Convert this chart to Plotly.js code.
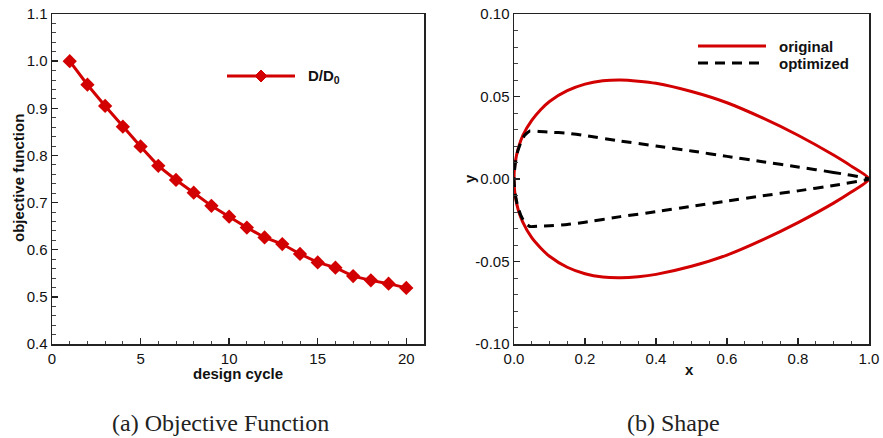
<!DOCTYPE html>
<html>
<head>
<meta charset="utf-8">
<script src="https://cdn.plot.ly/plotly-3.0.1.min.js"></script>
<style>html,body{margin:0;padding:0;background:#fff;}#chart{width:883px;height:438px;}</style>
</head>
<body>
<div id="chart"></div>
<script>
// ---- Data: (a) objective function history ----
const designCycle = [1,2,3,4,5,6,7,8,9,10,11,12,13,14,15,16,17,18,19,20];
const objective = [1.000,0.950,0.905,0.861,0.819,0.778,0.748,0.721,0.693,0.670,0.647,0.626,0.612,0.591,0.573,0.562,0.544,0.535,0.528,0.519];

// ---- Data: (b) shapes ----
const origX      = [0,0.0025,0.0125,0.025,0.05,0.075,0.1,0.15,0.2,0.25,0.3,0.35,0.4,0.5,0.6,0.7,0.8,0.9,0.95,1.0];
const origUpperY = [0,0.0088,0.0190,0.0265,0.0355,0.0420,0.0470,0.0535,0.0575,0.0595,0.0600,0.0593,0.0580,0.0530,0.0462,0.0370,0.0265,0.0145,0.0078,0.0];
const origLowerY = [0,-0.0088,-0.0192,-0.0263,-0.0356,-0.0418,-0.0468,-0.0535,-0.0574,-0.0594,-0.0598,-0.0592,-0.0578,-0.0529,-0.0461,-0.0369,-0.0264,-0.0146,-0.0079,0.0];

const optX      = [0,0.003,0.01,0.02,0.03,0.045,0.07,0.1,0.15,0.2,0.3,0.4,0.5,0.6,0.7,0.8,0.9,1.0];
const optUpperY = [0,0.0085,0.0165,0.0225,0.0265,0.0292,0.0288,0.0284,0.0278,0.0263,0.0230,0.0200,0.0170,0.0137,0.0105,0.0073,0.0040,0.0];
const optLowerY = [0,-0.0085,-0.0163,-0.0224,-0.0263,-0.0288,-0.0286,-0.0283,-0.0276,-0.0262,-0.0228,-0.0198,-0.0166,-0.0134,-0.0102,-0.0072,-0.0039,0.0];

// ---- Tick labels ----
const shapeYTickVals = [-0.10,-0.05,0.00,0.05,0.10];
const shapeYTickText = ['-0.10','-0.05','0.00','0.05','0.10'];

const legendLabels = {obj: 'D/D<sub>0</sub>', orig: 'original', opt: 'optimized'};
const axisTitles = {x1: 'design cycle', y1: 'objective function', x2: 'x', y2: 'y'};
const captions = ['(a) Objective Function', '(b) Shape'];

// closed outlines: upper from TE to LE, then lower from LE to TE
const loopX = xs => xs.slice().reverse().concat(xs.slice(1));
const loopY = (up, lo) => up.slice().reverse().concat(lo.slice(1));

const W = 883, H = 438;
const px = v => v / W;
const py = v => 1 - v / H;

const RED = '#d20000';
const FONT = 'Liberation Sans, Arial, sans-serif';
const SERIF = 'Liberation Serif, Times New Roman, serif';

const traces = [
  {x: designCycle, y: objective, xaxis: 'x', yaxis: 'y', mode: 'lines+markers', name: 'D/D0',
   line: {color: RED, width: 3}, marker: {symbol: 'diamond', size: 11, color: RED}, showlegend: false},
  {x: loopX(origX), y: loopY(origUpperY, origLowerY), xaxis: 'x2', yaxis: 'y2', mode: 'lines', name: 'original',
   line: {color: RED, width: 3, shape: 'spline', smoothing: 0.6}, showlegend: false},
  {x: loopX(optX), y: loopY(optUpperY, optLowerY), xaxis: 'x2', yaxis: 'y2', mode: 'lines', name: 'optimized',
   line: {color: '#000', width: 3, dash: '10px,7px', shape: 'spline', smoothing: 0.4}, showlegend: false}
];

const axBase = {
  showgrid: false, zeroline: false, showline: true, mirror: true, linecolor: '#222', linewidth: 1.5,
  ticks: 'inside', ticklen: 6, tickwidth: 1.5, tickcolor: '#222',
  tickfont: {family: FONT, size: 15, color: '#111'}, automargin: false, fixedrange: true
};
const minorTicks = d => ({ticks: 'inside', dtick: d, ticklen: 3.5, tickwidth: 1, tickcolor: '#444'});

const titleAnn = (text, x, y, rot) => ({
  xref: 'paper', yref: 'paper', x: px(x), y: py(y), xanchor: 'center', yanchor: 'middle', showarrow: false,
  borderpad: 0, textangle: rot || 0, text: '<b>' + text + '</b>', font: {family: FONT, size: 15, color: '#111'}
});

const layout = {
  width: W, height: H, margin: {l: 0, r: 0, t: 0, b: 0},
  paper_bgcolor: '#fff', plot_bgcolor: '#fff', showlegend: false,
  xaxis: Object.assign({}, axBase, {
    domain: [px(52), px(424)], range: [0, 21], tick0: 0, dtick: 5, anchor: 'y',
    minor: minorTicks(1)
  }),
  yaxis: Object.assign({}, axBase, {
    domain: [py(344), py(14)], range: [0.4, 1.1], tick0: 0.4, dtick: 0.1, tickformat: '.1f', anchor: 'x',
    minor: minorTicks(0.02)
  }),
  xaxis2: Object.assign({}, axBase, {
    domain: [px(514), px(869)], range: [0, 1], tick0: 0, dtick: 0.2, tickformat: '.1f', anchor: 'y2',
    minor: minorTicks(0.05)
  }),
  yaxis2: Object.assign({}, axBase, {
    domain: [py(344), py(14)], range: [-0.1, 0.1], tickmode: 'array', tickvals: shapeYTickVals, ticktext: shapeYTickText, anchor: 'x2',
    minor: minorTicks(0.01)
  }),
  shapes: [
    // legend samples (a)
    {type: 'line', xref: 'paper', yref: 'paper', x0: px(227), x1: px(295), y0: py(76), y1: py(76), line: {color: RED, width: 3}},
    {type: 'path', xref: 'paper', yref: 'paper', xsizemode: 'pixel', ysizemode: 'pixel', xanchor: px(261), yanchor: py(76),
     path: 'M0,-6 L6,0 L0,6 L-6,0 Z', fillcolor: RED, line: {color: RED, width: 1}},
    // legend samples (b)
    {type: 'line', xref: 'paper', yref: 'paper', x0: px(698), x1: px(766), y0: py(46), y1: py(46), line: {color: RED, width: 3}},
    {type: 'line', xref: 'paper', yref: 'paper', x0: px(698), x1: px(766), y0: py(63), y1: py(63), line: {color: '#000', width: 3, dash: '10px,7px'}}
  ],
  annotations: [
    {xref: 'paper', yref: 'paper', x: px(306), y: py(77), xanchor: 'left', yanchor: 'middle', showarrow: false,
     text: '<b>' + legendLabels.obj + '</b>', font: {family: FONT, size: 15, color: '#111'}},
    {xref: 'paper', yref: 'paper', x: px(777), y: py(46), xanchor: 'left', yanchor: 'middle', showarrow: false,
     text: '<b>' + legendLabels.orig + '</b>', font: {family: FONT, size: 15, color: '#111'}},
    {xref: 'paper', yref: 'paper', x: px(777), y: py(63), xanchor: 'left', yanchor: 'middle', showarrow: false,
     text: '<b>' + legendLabels.opt + '</b>', font: {family: FONT, size: 15, color: '#111'}},
    titleAnn(axisTitles.x1, 238, 373),
    titleAnn(axisTitles.y1, 19, 178, -90),
    titleAnn(axisTitles.x2, 689, 369),
    titleAnn(axisTitles.y2, 470, 178, -90),
    {xref: 'paper', yref: 'paper', x: px(221), y: py(423), xanchor: 'center', yanchor: 'middle', showarrow: false,
     text: captions[0], font: {family: SERIF, size: 24, color: '#222'}},
    {xref: 'paper', yref: 'paper', x: px(673), y: py(423), xanchor: 'center', yanchor: 'middle', showarrow: false,
     text: captions[1], font: {family: SERIF, size: 24, color: '#222'}}
  ]
};

Plotly.newPlot('chart', traces, layout, {staticPlot: true, displayModeBar: false});
</script>
</body>
</html>
